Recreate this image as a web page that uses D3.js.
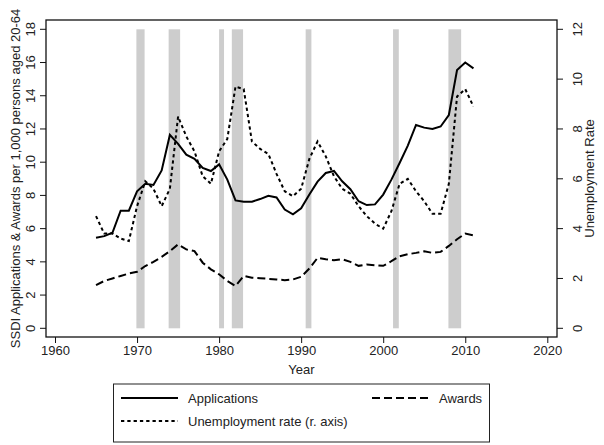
<!DOCTYPE html>
<html>
<head>
<meta charset="utf-8">
<script src="https://cdn.jsdelivr.net/npm/d3@7"></script>
<style>
  body { margin: 0; background: #fff; }
  svg { font-family: 'Liberation Sans', Arial, sans-serif; }
  text { fill: #222; font-size: 13px; }
</style>
</head>
<body>
<svg width="604" height="445"></svg>
<script>
const years = d3.range(1965, 2012);

const applications = [
  5.45, 5.55, 5.75, 7.08, 7.08, 8.25, 8.7, 8.63, 9.5, 11.64,
  11.1, 10.45, 10.2, 9.65, 9.47, 9.87, 8.95, 7.7, 7.62, 7.62,
  7.78, 7.98, 7.88, 7.15, 6.86, 7.22, 8.05, 8.83, 9.35, 9.47,
  8.85, 8.37, 7.65, 7.42, 7.46, 8.05, 8.95, 9.95, 11.0, 12.24,
  12.08, 12.0, 12.15, 12.84, 15.55, 16.0, 15.65
];

const awards = [
  2.6, 2.85, 3.0, 3.15, 3.3, 3.4, 3.75, 4.0, 4.3, 4.65,
  5.05, 4.75, 4.65, 3.95, 3.55, 3.25, 2.85, 2.55, 3.15, 3.05,
  3.02, 2.98, 2.94, 2.9, 2.94, 3.1, 3.6, 4.24, 4.16, 4.1,
  4.16, 4.0, 3.76, 3.84, 3.8, 3.76, 4.04, 4.34, 4.46, 4.54,
  4.64, 4.54, 4.6, 4.96, 5.36, 5.7, 5.6
];

const unemployment = [
  4.5, 3.8, 3.8, 3.6, 3.5, 4.9, 5.9, 5.6, 4.9, 5.6,
  8.5, 7.7, 7.1, 6.1, 5.8, 7.1, 7.6, 9.7, 9.6, 7.5,
  7.2, 7.0, 6.2, 5.5, 5.3, 5.6, 6.8, 7.5, 6.9, 6.1,
  5.6, 5.4, 4.9, 4.5, 4.2, 4.0, 4.7, 5.8, 6.0, 5.5,
  5.1, 4.6, 4.6, 5.8, 9.3, 9.6, 8.9
];

// recession periods (start, end) in fractional years
const recessions = [
  [1969.92, 1970.92], [1973.85, 1975.25], [1980.0, 1980.6],
  [1981.55, 1982.92], [1990.55, 1991.25], [2001.2, 2001.9], [2007.95, 2009.5]
];

const xTicks = [1960, 1970, 1980, 1990, 2000, 2010, 2020];
const leftTicks = d3.range(0, 19, 2);
const rightTicks = d3.range(0, 13, 2);

const svg = d3.select('svg');

const frame = { left: 46, right: 557, top: 20, bottom: 337 };

const xScale = d3.scaleLinear().domain([1960, 2020]).range([55, 547.3]);
const yScale = d3.scaleLinear().domain([0, 18]).range([328.3, 29.3]);
const yRight = d3.scaleLinear().domain([0, 12]).range([328.3, 29.3]);

// recession bands
svg.append('g').selectAll('rect').data(recessions)
  .enter().append('rect')
    .attr('x', d => xScale(d[0]))
    .attr('width', d => xScale(d[1]) - xScale(d[0]))
    .attr('y', yScale(18))
    .attr('height', yScale(0) - yScale(18))
    .attr('fill', '#cdcdcd');

const series = [
  { name: 'Applications', values: applications, scale: yScale, dash: null },
  { name: 'Awards', values: awards, scale: yScale, dash: '8,4' },
  { name: 'Unemployment rate (r. axis)', values: unemployment, scale: yRight, dash: '3.3,3' }
];

series.forEach(s => {
  const line = d3.line()
    .x((d, i) => xScale(years[i]))
    .y(d => s.scale(d));
  svg.append('path')
    .datum(s.values)
    .attr('d', line)
    .attr('fill', 'none')
    .attr('stroke', '#000')
    .attr('stroke-width', 2)
    .attr('stroke-dasharray', s.dash);
});

// plot frame
svg.append('rect')
  .attr('x', frame.left)
  .attr('y', frame.top)
  .attr('width', frame.right - frame.left)
  .attr('height', frame.bottom - frame.top)
  .attr('fill', 'none')
  .attr('stroke', '#111')
  .attr('stroke-width', 1.3);

// x axis
const xAxis = d3.axisBottom(xScale).tickValues(xTicks).tickSize(6).tickFormat(d3.format('d'));
const xAxisG = svg.append('g')
  .attr('transform', `translate(0,${frame.bottom})`)
  .call(xAxis);
xAxisG.select('.domain').remove();
xAxisG.selectAll('line').attr('stroke', '#111');
xAxisG.selectAll('text')
  .attr('y', 18)
  .attr('dy', 0)
  .style('font-size', '13px')
  .style('font-family', 'Liberation Sans, Arial, sans-serif')
  .attr('fill', '#222');

// left axis
const leftG = svg.append('g');
leftG.selectAll('line').data(leftTicks)
  .enter().append('line')
    .attr('x1', frame.left - 6)
    .attr('x2', frame.left)
    .attr('y1', d => yScale(d))
    .attr('y2', d => yScale(d))
    .attr('stroke', '#111');
leftG.selectAll('text').data(leftTicks)
  .enter().append('text')
    .attr('transform', d => `translate(30,${yScale(d)}) rotate(-90)`)
    .attr('text-anchor', 'middle')
    .attr('dy', '0.36em')
    .text(d => d);

// right axis
const rightG = svg.append('g');
rightG.selectAll('line').data(rightTicks)
  .enter().append('line')
    .attr('x1', frame.right)
    .attr('x2', frame.right + 6)
    .attr('y1', d => yRight(d))
    .attr('y2', d => yRight(d))
    .attr('stroke', '#111');
rightG.selectAll('text').data(rightTicks)
  .enter().append('text')
    .attr('transform', d => `translate(577,${yRight(d)}) rotate(-90)`)
    .attr('text-anchor', 'middle')
    .attr('dy', '0.36em')
    .text(d => d);

// axis titles
svg.append('text')
  .attr('transform', 'translate(15,178.5) rotate(-90)')
  .attr('text-anchor', 'middle')
  .attr('dy', '0.36em')
  .text('SSDI Applications & Awards per 1,000 persons aged 20-64');

svg.append('text')
  .attr('transform', 'translate(589,178.5) rotate(-90)')
  .attr('text-anchor', 'middle')
  .attr('dy', '0.36em')
  .text('Unemployment Rate');

svg.append('text')
  .attr('x', (frame.left + frame.right) / 2)
  .attr('y', 369.5)
  .attr('dy', '0.36em')
  .attr('text-anchor', 'middle')
  .text('Year');

// legend
const legend = svg.append('g');
legend.append('rect')
  .attr('x', 113.5).attr('y', 384)
  .attr('width', 376).attr('height', 58)
  .attr('fill', '#fff')
  .attr('stroke', '#222')
  .attr('stroke-width', 1);

const legendItems = [
  { s: series[0], x: 121, y: 398 },
  { s: series[1], x: 372, y: 398 },
  { s: series[2], x: 121, y: 421 }
];

legendItems.forEach(item => {
  legend.append('line')
    .attr('x1', item.x).attr('x2', item.x + 57)
    .attr('y1', item.y).attr('y2', item.y)
    .attr('stroke', '#000')
    .attr('stroke-width', 2)
    .attr('stroke-dasharray', item.s.dash);
  legend.append('text')
    .attr('x', item.x + 67)
    .attr('y', item.y)
    .attr('dy', '0.36em')
    .text(item.s.name);
});
</script>
</body>
</html>
